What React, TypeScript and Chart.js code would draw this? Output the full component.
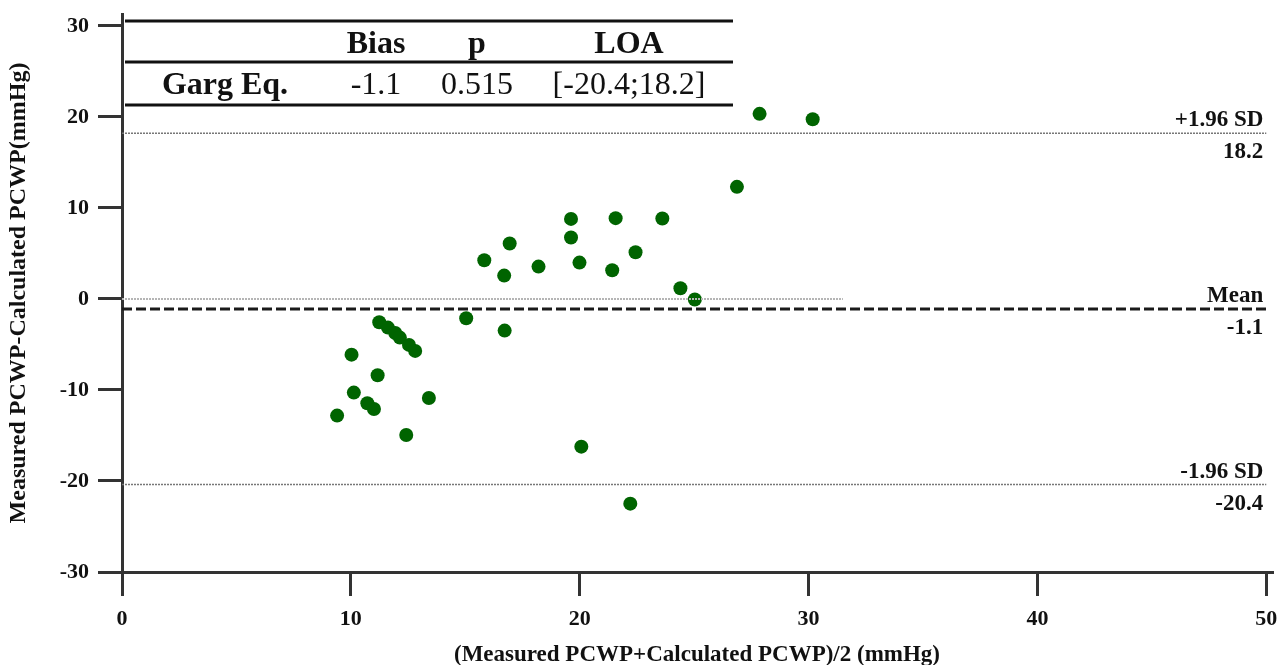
import React, { useEffect, useRef } from "react";
import { Chart, registerables } from "chart.js";

Chart.register(...registerables);

// ---- Data ----
const meanValues: number[] = [
  19.62, 21.57, 23.61, 19.62, 16.94, 15.83, 16.7, 18.2, 19.99, 21.42, 22.44, 24.4, 25.03,
  15.04, 16.72, 11.24, 11.62, 11.94, 12.14, 12.54, 12.81, 10.03, 11.17, 10.13, 10.72, 11.01,
  9.4, 13.41, 12.42, 20.07, 22.21, 27.86, 30.18, 26.87,
];
const diffValues: number[] = [
  8.79, 8.87, 8.83, 6.74, 6.08, 4.25, 2.56, 3.55, 3.99, 3.15, 5.13, 1.17, -0.07,
  -2.12, -3.48, -2.56, -3.15, -3.74, -4.25, -5.05, -5.71, -6.12, -8.39, -10.29, -11.46, -12.09,
  -12.82, -10.88, -14.95, -16.23, -22.49, 20.33, 19.74, 12.31,
];
const bias = -1.1;
const upperLOA = 18.2;
const lowerLOA = -20.4;
const pValue = "0.515";
const zeroLineEnd = 31.5;
const xTicks: number[] = [0, 10, 20, 30, 40, 50];
const yTicks: number[] = [-30, -20, -10, 0, 10, 20, 30];
const tableHeaders: string[] = ["Bias", "p", "LOA"];
const tableRowLabel = "Garg Eq.";
const tableRow: string[] = [bias.toFixed(1), pValue, `[${lowerLOA.toFixed(1)};${upperLOA.toFixed(1)}]`];

const FONT = "'Liberation Serif', 'Times New Roman', serif";

const annotationPlugin = {
  id: "blandAltmanText",
  afterDraw(chart: any) {
    const ctx = chart.ctx;
    const xs = chart.scales.x;
    const ys = chart.scales.y;
    ctx.save();
    // Right-side labels
    const rx = xs.getPixelForValue(50) - 3;
    ctx.fillStyle = "#111";
    ctx.textAlign = "right";
    ctx.font = `bold 23px ${FONT}`;
    ctx.textBaseline = "alphabetic";
    const lab = (top: string, bottom: string, v: number) => {
      const py = ys.getPixelForValue(v);
      ctx.fillText(top, rx, py - 7);
      ctx.fillText(bottom, rx, py + 25);
    };
    lab("+1.96 SD", upperLOA.toFixed(1), upperLOA);
    lab("Mean", bias.toFixed(1), bias);
    lab("-1.96 SD", lowerLOA.toFixed(1), lowerLOA);

    // Table
    const left = chart.chartArea.left + 3;
    const right = 733;
    ctx.strokeStyle = "#111";
    ctx.lineWidth = 3;
    [21, 62, 105].forEach((y) => {
      ctx.beginPath();
      ctx.moveTo(left, y);
      ctx.lineTo(right, y);
      ctx.stroke();
    });
    ctx.textAlign = "center";
    const cols = [376, 477, 629];
    ctx.font = `bold 32px ${FONT}`;
    tableHeaders.forEach((h, i) => ctx.fillText(h, cols[i], 53));
    ctx.fillText(tableRowLabel, 225, 94);
    ctx.font = `32px ${FONT}`;
    tableRow.forEach((t, i) => ctx.fillText(t, cols[i], 94));
    ctx.restore();
  },
};

export default function App() {
  const ref = useRef<HTMLCanvasElement | null>(null);
  useEffect(() => {
    if (!ref.current) return;
    const hline = (y: number, x1: number, x2: number) => [
      { x: x1, y },
      { x: x2, y },
    ];
    const chart = new Chart(ref.current, {
      type: "scatter",
      data: {
        datasets: [
          {
            type: "line",
            data: hline(0, 0, zeroLineEnd),
            borderColor: "#b5b5b5",
            borderWidth: 2,
            borderDash: [2, 1],
            pointRadius: 0,
          },
          {
            type: "line",
            data: hline(upperLOA, 0, 50),
            borderColor: "#777",
            borderWidth: 1.5,
            borderDash: [2, 1],
            pointRadius: 0,
          },
          {
            type: "line",
            data: hline(lowerLOA, 0, 50),
            borderColor: "#777",
            borderWidth: 1.5,
            borderDash: [2, 1],
            pointRadius: 0,
          },
          {
            type: "line",
            data: hline(bias, 0, 50),
            borderColor: "#1a1a1a",
            borderWidth: 3,
            borderDash: [10, 4],
            pointRadius: 0,
          },
          {
            type: "scatter",
            data: meanValues.map((x, i) => ({ x, y: diffValues[i] })),
            backgroundColor: "#006400",
            borderColor: "#0b6d0b",
            borderWidth: 0,
            pointRadius: 7,
          },
        ],
      } as any,
      options: {
        animation: false,
        responsive: false,
        layout: { padding: { top: 14, right: 0, bottom: 0, left: 0 } },
        plugins: { legend: { display: false }, tooltip: { enabled: false } },
        scales: {
          x: {
            type: "linear",
            min: 0,
            max: 50.25,
            afterBuildTicks: (s: any) => {
              s.ticks = xTicks.map((v) => ({ value: v }));
            },
            afterFit: (s: any) => {
              s.height = 93;
              s.paddingLeft = 0;
              s.paddingRight = 0;
            },
            grid: {
              drawOnChartArea: false,
              drawTicks: true,
              tickLength: 24,
              color: "#333",
              lineWidth: 3,
            },
            border: { display: true, color: "#333", width: 3 },
            ticks: {
              padding: 10,
              color: "#111",
              maxRotation: 0,
              font: { family: FONT, size: 22, weight: "bold" },
            },
            title: {
              display: true,
              text: "(Measured PCWP+Calculated PCWP)/2 (mmHg)",
              color: "#111",
              font: { family: FONT, size: 23, weight: "bold", lineHeight: 0.87 },
              padding: 0,
            },
          },
          y: {
            type: "linear",
            min: -30,
            max: 31.3,
            afterBuildTicks: (s: any) => {
              s.ticks = yTicks.map((v) => ({ value: v }));
            },
            afterFit: (s: any) => {
              s.width = 122;
              s.paddingTop = 0;
              s.paddingBottom = 0;
            },
            grid: {
              drawOnChartArea: false,
              drawTicks: true,
              tickLength: 24,
              color: "#333",
              lineWidth: 3,
            },
            border: { display: true, color: "#333", width: 3 },
            ticks: {
              padding: 9,
              color: "#111",
              font: { family: FONT, size: 22, weight: "bold" },
            },
            title: {
              display: true,
              text: "Measured PCWP-Calculated PCWP(mmHg)",
              color: "#111",
              font: { family: FONT, size: 24, weight: "bold", lineHeight: 1 },
              padding: { top: 7, bottom: 0 },
            },
          },
        },
      } as any,
      plugins: [annotationPlugin],
    });
    return () => chart.destroy();
  }, []);
  return (
    <div style={{ position: "absolute", left: 0, top: 0, width: 1279, height: 665, background: "#fff" }}>
      <canvas ref={ref} width={1279} height={665} style={{ display: "block" }} />
    </div>
  );
}
